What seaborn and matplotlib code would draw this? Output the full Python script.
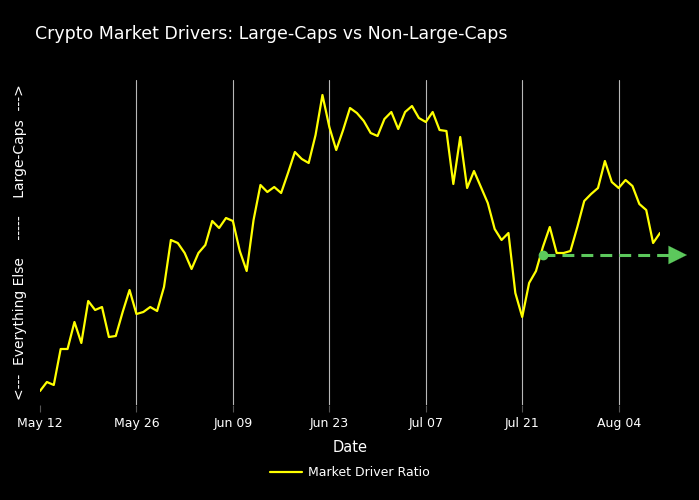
import numpy as np
import pandas as pd
import matplotlib
matplotlib.use("Agg")
import matplotlib.pyplot as plt
import seaborn as sns

# ---- data ----
start_date = "2024-05-12"
ratio = [0.09, 0.18, 0.15, 0.51, 0.51, 0.78, 0.57, 0.99, 0.90, 0.93,
         0.63, 0.64, 0.88, 1.10, 0.86, 0.88, 0.93, 0.89, 1.13, 1.60,
         1.57, 1.47, 1.31, 1.47, 1.55, 1.79, 1.72, 1.82, 1.79, 1.49,
         1.29, 1.80, 2.15, 2.08, 2.13, 2.07, 2.27, 2.48, 2.41, 2.37,
         2.65, 3.05, 2.73, 2.50, 2.70, 2.92, 2.87, 2.79, 2.67, 2.64,
         2.81, 2.88, 2.71, 2.88, 2.94, 2.82, 2.78, 2.88, 2.70, 2.69,
         2.16, 2.63, 2.12, 2.29, 2.13, 1.97, 1.71, 1.60, 1.67, 1.07,
         0.83, 1.17, 1.29, 1.53, 1.73, 1.47, 1.47, 1.49, 1.73, 1.99,
         2.06, 2.12, 2.39, 2.18, 2.12, 2.20, 2.14, 1.96, 1.90, 1.57,
         1.67]
dates = pd.date_range(start_date, periods=len(ratio), freq="D")
tick_dates = pd.to_datetime(["2024-05-12", "2024-05-26", "2024-06-09",
                             "2024-06-23", "2024-07-07", "2024-07-21",
                             "2024-08-04"])
tick_labels = ["May 12", "May 26", "Jun 09", "Jun 23", "Jul 07", "Jul 21", "Aug 04"]

arrow_start_date = pd.Timestamp("2024-07-24")
arrow_end_date = pd.Timestamp("2024-08-13 22:00")
arrow_level = 1.45

df = pd.DataFrame({"Date": dates, "Market Driver Ratio": ratio})

# ---- figure ----
sns.set_theme(style="dark")
plt.rcParams["font.family"] = ["DejaVu Sans"]
fig = plt.figure(figsize=(6.99, 5.0), dpi=100, facecolor="black")
ax = fig.add_axes([40/699, 1-405/500, 620/699, 325/500])
ax.set_facecolor("black")

sns.lineplot(data=df, x="Date", y="Market Driver Ratio", ax=ax,
             color="#FFFF00", lw=1.6, label="Market Driver Ratio", legend=False)

ax.set_xlim(dates[0], dates[-1])
ax.set_ylim(-0.05, 3.20)

# grid lines (vertical only)
for d in tick_dates[1:]:
    ax.axvline(d, color="#b8b8b8", lw=0.8, zorder=0)

ax.set_xticks(tick_dates)
ax.set_xticklabels(tick_labels, color="white", fontsize=9)
ax.tick_params(axis="x", length=5, width=0.8, color="#555555", pad=4, bottom=True)
ax.set_yticks([])
for s in ax.spines.values():
    s.set_visible(False)

ax.set_xlabel("Date", color="white", fontsize=10.5, labelpad=7)
ax.set_ylabel("<---  Everything Else    -----    Large-Caps  --->",
              color="white", fontsize=10, labelpad=8)
ax.yaxis.set_label_coords(-13/620, 0.5)

# green dashed arrow annotation
green = "#5CC85C"
ax.plot([arrow_start_date, arrow_end_date - pd.Timedelta(hours=30)],
        [arrow_level, arrow_level], color=green, lw=2.2,
        dashes=(3.9, 2.3), clip_on=False, zorder=3)
ax.plot([arrow_start_date], [arrow_level], marker="o", ms=6, color=green,
        clip_on=False, zorder=4)
ax.annotate("", xy=(arrow_end_date, arrow_level),
            xytext=(arrow_end_date - pd.Timedelta(hours=40), arrow_level),
            arrowprops=dict(arrowstyle="-|>,head_length=1.1,head_width=0.55",
                            color=green, lw=0.1, shrinkA=0, shrinkB=0),
            annotation_clip=False, zorder=4)

fig.text(35/699, 1-34/500, "Crypto Market Drivers: Large-Caps vs Non-Large-Caps",
         color="white", fontsize=12.5, va="center", ha="left")

handles, labels = ax.get_lines()[:1], ["Market Driver Ratio"]
leg = fig.legend(handles, labels, loc="center", bbox_to_anchor=(350/699, 1-473/500),
                 frameon=False, fontsize=9, handlelength=2.6, handletextpad=0.5)
for t in leg.get_texts():
    t.set_color("white")

fig.savefig("out.png", dpi=100, facecolor="black")
